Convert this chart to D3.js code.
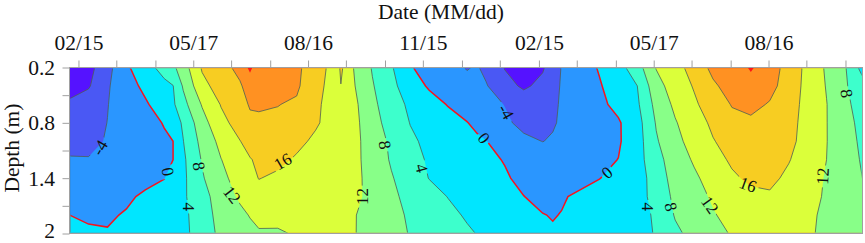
<!DOCTYPE html>
<html>
<head>
<meta charset="utf-8">
<script src="https://cdn.jsdelivr.net/npm/d3@7"></script>
<style>
  html, body { margin: 0; padding: 0; background: #fff; }
  svg { display: block; }
  text { font-family: "Liberation Serif", serif; fill: #111; }
</style>
</head>
<body>
<svg id="chart" width="865" height="243"></svg>
<script>
// days after the first 02/15, one value per grid column
const days = [-7,8,23,38,53,68,75,83,98,113,128,136,143,158,173,188,203,206,208,211,218,233,248,263,278,293,308,316,323,338,353,368,376,383,398,413,428,443,458,473,488,503,518,533,548,563,578,593,608,623];
const depths = [0.2,0.4,0.6,0.8,1.0,1.2,1.4,1.6,1.8,2.0];

// soil temperature at each depth, one value per day above
const t02 = [-10.5,-9.3,-5.3,-0.6,2.4,5.5,7.2,10.1,16.4,18.7,21,25,21.2,21.5,20.8,17.8,14.6,15,16.8,15.2,12,7.7,4.4,0.3,-1.5,-2.8,-4.2,-3.7,-4.9,-8.2,-9.5,-8.4,-6.2,-3.8,-1.7,0.3,2.5,6.3,12.2,14.5,17.6,21,21.5,24.5,21.5,18.8,14.8,11.5,8.2,1.9];
const t04 = [-8.9,-8.4,-4.4,-1.6,0.9,3,3.9,8.4,14.9,17.6,19.6,21.5,21.3,21.5,20.6,17.2,14.5,14.1,15.9,14,12.35,8.3,5,1.9,-0.45,-1.5,-3,-3.3,-3.7,-6.7,-8.6,-7,-5.1,-3.7,-2,-0.3,1.8,4,10.6,13.8,16.3,19.4,21.5,22.5,21.2,18.2,14.8,11.8,8.4,5];
const t06 = [-7.6,-5.9,-4.1,-2.3,-0.5,2.1,3.4,6.7,12.3,16.2,18.8,20.3,20.4,20.1,19.5,16.6,14.6,14.2,13.9,13.5,13,8.9,5.7,3.3,1.5,-0.2,-1.5,-2.2,-2.8,-4.1,-5.8,-5.4,-4.5,-3.7,-2.3,-0.8,1,3.4,9.2,12.8,15.4,17.95,20.2,21,19.7,17.7,14.7,12.1,8.7,6.3];
const t08 = [-6.4,-5.2,-3.96,-2.6,-1.3,0.2,2.1,4.5,10.5,14.9,17.5,19.3,19.4,19.3,18.1,16.4,14.6,14.2,13.9,13.5,13.2,9.5,6.4,3.9,2.6,1.4,0.1,-0.8,-1.6,-3.4,-4.9,-5.3,-4.3,-3.6,-2.5,-1.5,-0.4,2.5,8.3,11.7,14.3,16.7,19,19.3,19,17.2,14.7,12.1,9.1,6.8];
const t10 = [-5,-4.5,-3.85,-2.7,-1.6,-0.5,0,3.9,9.2,13.1,15.9,17.3,17.9,17.9,16.8,15.4,14,13.7,13.5,13.2,13,10.4,7.2,4.6,3.2,2.2,1.1,0.6,0.1,-1.6,-3.3,-4.05,-3.7,-3.3,-2.3,-1.4,-0.4,2.3,7.6,10.9,13.5,15.8,17.4,18,18.2,17,14.5,12.1,9.4,7.1];
const t12 = [-3.75,-3.9,-3.2,-2.3,-1.5,-0.5,0,3.3,8.3,11.9,14.5,15.8,16.6,16.8,15.6,14.6,13.5,13.3,13.2,13.1,13,10.5,7.6,5.2,3.6,2.7,1.7,1.2,0.8,-0.2,-1.4,-2.2,-2.2,-2.2,-1.4,-0.7,0.05,2.5,6.6,10.1,12.4,14.5,16.6,17.4,17.4,16.2,14.2,12,9.7,7.4];
const t14 = [-2.5,-2.3,-1.9,-1.3,-0.7,-0.1,1.3,3.2,7.6,11,13.6,14.9,16.1,15.4,14.7,14.2,13.4,13.3,13.2,13.1,13,10.8,8.3,6,3.9,3,2.1,1.7,1.3,0.4,-0.9,-1.6,-1.6,-1.6,-1,-0.1,1.5,2.2,5.8,9.6,11.4,13.4,15.4,16.7,16.8,15.3,13.5,11.7,9.7,7.8];
const t16 = [-1.25,-1.1,-0.9,-0.4,0.4,1.9,2.6,3.4,6.6,9.9,12.6,13.6,14.6,14.6,14,13.6,13,12.95,12.9,12.85,12.8,11.1,8.7,7,5.4,3.9,2.9,2.4,2,1,0.05,-0.9,-0.55,-0.3,0.6,1.6,2.6,2.9,5,9,10.6,12.5,14,15.1,15.55,14.4,13.1,11.6,10,8.2];
const t18 = [0,-0.7,-0.3,0.2,1.2,2,2.7,3.2,5.9,9.6,11.1,12.2,12.8,13,13.2,12.9,12.5,12.5,12.4,12.4,12.2,10.9,9.1,7.5,6.1,4.9,3.6,3,2.6,1.7,0.9,0.1,-0.15,0.1,0.9,1.8,2.6,3,4.4,8.3,10,11.7,13.2,14.2,14.6,13.6,12.6,11.4,10,8.6];
const t20 = [1.2,0.73,0.16,1,1.7,2.6,2.9,3.1,5.7,9,10.2,11,11.7,11.6,12.3,12.6,12.4,12.4,12.4,12.3,12.2,10.8,9.3,7.8,6.7,5.6,4.5,3.9,3.4,2.4,1.5,0.8,0.3,0.8,1.6,2.4,3,3.1,4.2,7.2,9.2,10.7,12.3,13.2,13.7,13.1,12.4,11.4,10.1,9];

// contour levels and the band colours (colours[i] is above levels[i-1])
const levels = [-8,-4,0,4,8,12,16,20,24];
const colours = ['#5512ff','#4a58f4','#2a96ff','#00e6ff','#3dffcc','#88ff88','#dbff3a','#f7cd22','#ff9122','#ff1616'];

// ticks
const tickDays = [0,30,61,91,121,152,182,212,243,273,304,334,365,395,426,456,486,517,547,577,608];
const labelDays = [0,91,182,273,365,456,547];
const labelDates = ['02/15','05/17','08/16','11/15','02/15','05/17','08/16'];
const tickDepths = [0.2,0.5,0.8,1.1,1.4,1.7,2];
const labelledDepths = [0.2,0.8,1.4,2];

// inline contour labels
const inlineText = ['-4','0','8','4','12','16','12','8','4','0','-4','0','4','8','12','16','12','8'];
const inlineDay = [17,71,95.5,87.6,121.7,162,224.7,243,272,321.4,339,419,451.5,469.7,500.6,530.7,590,609];
const inlineDepth = [1.07,1.33,1.27,1.71,1.58,1.22,1.6,1.04,1.29,0.965,0.68,1.34,1.71,1.71,1.69,1.47,1.38,0.48];
const inlineAngle = [-60,80,80,90,52,-30,-90,80,75,50,60,-40,90,75,55,20,-87,80];

const svg = d3.select('#chart');
const x = d3.scaleLinear().domain([-7.1, 621.5]).range([69.5, 862.5]);
const y = d3.scaleLinear().domain([0.2, 2]).range([67.5, 233.5]);

// grid index -> data value, columns and rows are not evenly spaced
const colDay = d3.scaleLinear().domain(d3.range(days.length)).range(days).clamp(true);
const rowDepth = d3.scaleLinear().domain(d3.range(depths.length)).range(depths).clamp(true);

const grid = [t02,t04,t06,t08,t10,t12,t14,t16,t18,t20].flat();
const contours = d3.contours().size([days.length, depths.length]).thresholds(levels)(grid);

const path = d3.geoPath(d3.geoTransform({
  point(px, py) { this.stream.point(x(colDay(px - 0.5)), y(rowDepth(py - 0.5))); }
}));

const defs = svg.append('defs');
defs.append('clipPath').attr('id', 'plot').append('rect')
  .attr('x', 69.5).attr('y', 67.5).attr('width', 793).attr('height', 166);
defs.append('clipPath').attr('id', 'inner').append('rect')
  .attr('x', 70.4).attr('y', 68.4).attr('width', 791.2).attr('height', 164.2);

// gaps in the lines behind the inline labels
const mask = defs.append('mask').attr('id', 'gaps').attr('maskUnits', 'userSpaceOnUse')
  .attr('x', 0).attr('y', 0).attr('width', 865).attr('height', 243);
mask.append('rect').attr('width', 865).attr('height', 243).attr('fill', '#fff');
inlineText.forEach((t, i) => {
  const w = t.length * 8.5 + 5;
  mask.append('rect')
    .attr('x', -w / 2).attr('y', -8).attr('width', w).attr('height', 16).attr('fill', '#000')
    .attr('transform', `translate(${x(inlineDay[i])},${y(inlineDepth[i])}) rotate(${inlineAngle[i]})`);
});

// filled bands
const bands = svg.append('g').attr('clip-path', 'url(#plot)');
bands.append('rect').attr('x', 69.5).attr('y', 67.5).attr('width', 793).attr('height', 166).attr('fill', colours[0]);
bands.selectAll('path').data(contours).enter().append('path')
  .attr('d', path)
  .attr('fill', (d, i) => colours[i + 1]);

// contour lines, 0 in red
svg.append('g').attr('clip-path', 'url(#inner)')
  .append('g').attr('mask', 'url(#gaps)')
  .selectAll('path').data(contours.filter(d => d.value < 24)).enter().append('path')
  .attr('d', path)
  .attr('fill', 'none')
  .attr('stroke', d => d.value === 0 ? '#f5141e' : '#4f5f55')
  .attr('stroke-opacity', d => d.value === 0 ? 1 : 0.8)
  .attr('stroke-width', d => d.value === 0 ? 1.5 : 1);

// frame
svg.append('rect').attr('x', 69.5).attr('y', 67.5).attr('width', 793).attr('height', 166)
  .attr('fill', 'none').attr('stroke', '#a0a0a0').attr('stroke-width', 1);

// axes
const xAxis = svg.append('g').attr('transform', 'translate(0,67.5)')
  .call(d3.axisTop(x).tickValues(tickDays).tickSize(7).tickPadding(11)
    .tickFormat(d => labelDays.includes(d) ? labelDates[labelDays.indexOf(d)] : ''));
const yAxis = svg.append('g').attr('transform', 'translate(69.5,0)')
  .call(d3.axisLeft(y).tickValues(tickDepths).tickSize(7).tickPadding(7.5)
    .tickFormat(d => labelledDepths.includes(d) ? String(d) : ''));
[xAxis, yAxis].forEach(a => {
  a.select('.domain').remove();
  a.selectAll('.tick line').attr('stroke', '#a0a0a0').attr('stroke-width', 1);
  a.selectAll('.tick text').attr('fill', '#111').attr('font-size', 21.5).attr('font-family', '"Liberation Serif", serif');
});
// keep the bottom label inside the page
yAxis.selectAll('.tick text').filter(d => d === 2).attr('y', -2.5).attr('dy', '0.32em');

// axis titles
svg.append('text').attr('x', 441).attr('y', 19.4).attr('text-anchor', 'middle').attr('font-size', 21.5).text('Date (MM/dd)');
svg.append('text').attr('transform', 'translate(19.4,148) rotate(-90)').attr('text-anchor', 'middle').attr('font-size', 21.5).text('Depth (m)');

// inline labels
inlineText.forEach((t, i) => {
  svg.append('text')
    .attr('transform', `translate(${x(inlineDay[i])},${y(inlineDepth[i])}) rotate(${inlineAngle[i]})`)
    .attr('text-anchor', 'middle').attr('dy', '0.34em').attr('font-size', 17).text(t);
});
</script>
</body>
</html>
